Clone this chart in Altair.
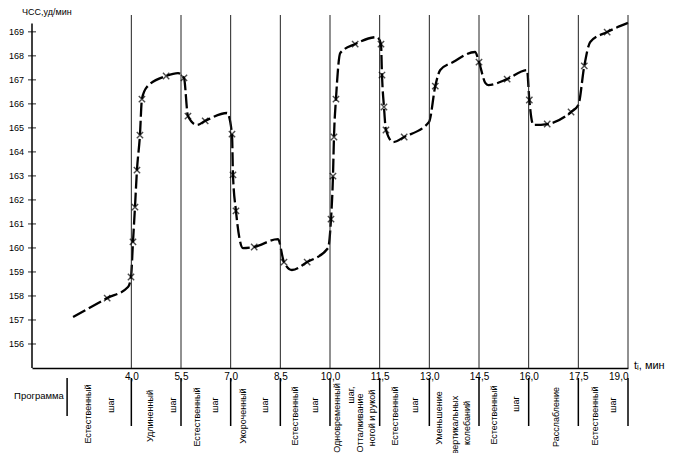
import altair as alt
import pandas as pd

FONT = "Liberation Sans"

# ---- heart-rate curve (t in min, HR in beats/min); flag 1 = measured point (x marker)
curve_t = [2.24, 3.27, 3.90, 3.99, 4.05, 4.11, 4.17, 4.26, 4.32, 4.47, 5.05, 5.41, 5.59, 5.71,
           5.98, 6.23, 6.89, 7.04, 7.07, 7.16, 7.37, 7.71, 8.43, 8.61, 8.85, 9.31, 9.94,
           10.03, 10.09, 10.12, 10.18, 10.31, 10.76, 11.42, 11.54, 11.57, 11.63, 11.69,
           11.91, 12.24, 12.99, 13.18, 13.33, 13.72, 14.38, 14.50, 14.69, 14.78, 15.35,
           15.95, 16.02, 16.14, 16.56, 17.28, 17.50, 17.68, 17.86, 18.37, 19.00]
curve_v = [157.12, 157.91, 158.37, 158.79, 160.25, 161.70, 163.24, 164.70, 166.20, 166.70,
           167.16, 167.28, 167.08, 165.49, 165.12, 165.29, 165.62, 164.74, 163.04, 161.54,
           159.99, 160.04, 160.37, 159.41, 159.08, 159.41, 159.99, 161.20, 162.99, 164.62,
           166.20, 168.12, 168.49, 168.78, 168.49, 167.20, 165.87, 164.91, 164.41, 164.62,
           165.24, 166.74, 167.41, 167.74, 168.16, 167.74, 166.87, 166.78, 167.03, 167.41,
           166.16, 165.12, 165.16, 165.66, 165.95, 167.58, 168.58, 168.99, 169.37]
curve_mark = [0, 1, 0, 1, 1, 1, 1, 1, 1, 0, 1, 0, 1, 1, 0, 1, 0, 1, 1, 1, 0, 1, 0, 1, 0, 1, 0,
              1, 1, 1, 1, 0, 1, 0, 1, 1, 1, 1, 0, 1, 0, 1, 0, 0, 0, 1, 0, 0, 1, 0, 1, 0, 1,
              1, 0, 1, 0, 1, 0]

# ---- axes
x_ticks = [4.0, 5.5, 7.0, 8.5, 10.0, 11.5, 13.0, 14.5, 16.0, 17.5, 19.0]
y_ticks = list(range(156, 170))
y_labels = [str(v) for v in y_ticks]

# ---- program strip below the axis
sep_t = [2.06] + x_ticks
sep_top = [363] * len(sep_t)
sep_bot = [401] + [411] * len(x_ticks)

prog_text = ["Естественный", "шаг", "Удлиненный", "шаг", "Естественный", "шаг",
             "Укороченный", "шаг", "Естественный", "шаг", "Одновременный", "шаг,",
             "Отталкивание", "ногой и рукой", "Естественный", "шаг", "Уменьшение",
             "вертикальных", "колебаний", "Естественный", "шаг", "Расслабление",
             "Естественный", "шаг"]
prog_t = [2.69, 3.39, 4.56, 5.26, 5.98, 6.53, 7.37, 8.04, 8.95, 9.55, 10.21, 10.64,
          10.91, 11.27, 11.97, 12.57, 13.30, 13.78, 14.14, 14.96, 15.62, 16.83, 18.01, 18.55]
prog_y = [399, 390, 401, 390, 402, 390, 401, 390, 401, 390, 403, 380, 408, 403, 401, 390,
          403, 410, 408, 400, 389, 402, 401, 390]

df_curve = pd.DataFrame({"t": curve_t, "v": curve_v, "m": curve_mark})
df_marks = df_curve[df_curve["m"] == 1]
df_vlines = pd.DataFrame({"t": x_ticks})
df_yt = pd.DataFrame({"v": y_ticks, "lab": y_labels})
df_sep = pd.DataFrame({"t": sep_t, "y1": sep_top, "y2": sep_bot})
df_prog = pd.DataFrame({"t": prog_t, "ly": prog_y, "txt": prog_text})
df_ax = pd.DataFrame({"v0": [155], "v1": [169.35]})

xs = alt.Scale(domain=[1, 19], nice=False, zero=False)
ys = alt.Scale(domain=[155, 169.7], nice=False, zero=False)

line = alt.Chart(df_curve).mark_line(
    interpolate="monotone", color="black", strokeWidth=2.3, strokeDash=[14, 4]
).encode(
    x=alt.X("t:Q", scale=xs, axis=alt.Axis(
        values=x_ticks, ticks=False, grid=False, domainColor="black", domainWidth=1.5,
        labelExpr="replace(format(datum.value, '.1f'), '.', ',')", labelOverlap=False,
        labelFont=FONT, labelFontSize=10, labelColor="black", labelPadding=3, title=None)),
    y=alt.Y("v:Q", scale=ys, axis=None),
)

vlines = alt.Chart(df_vlines).mark_rule(color="#222", strokeWidth=1).encode(
    x=alt.X("t:Q", scale=xs), y=alt.value(0), y2=alt.value(353))

yaxis_line = alt.Chart(df_ax).mark_rule(color="black", strokeWidth=1.5).encode(
    x=alt.value(0), y=alt.Y("v0:Q", scale=ys, axis=None), y2="v1:Q")

yticks = alt.Chart(df_yt).mark_tick(color="black", thickness=1.2, size=8, orient="horizontal").encode(
    x=alt.value(0), y=alt.Y("v:Q", scale=ys, axis=None))

ylabels = alt.Chart(df_yt).mark_text(
    align="right", baseline="middle", font=FONT, fontSize=9, color="black"
).encode(x=alt.value(-8), y=alt.Y("v:Q", scale=ys, axis=None), text="lab:N")

points = alt.Chart(df_marks).mark_point(
    shape="M-1,-1L1,1M-1,1L1,-1", size=40, strokeWidth=1.4, color="black", filled=False
).encode(x=alt.X("t:Q", scale=xs), y=alt.Y("v:Q", scale=ys, axis=None))

seps = alt.Chart(df_sep).mark_rule(color="black", strokeWidth=1.5).encode(
    x=alt.X("t:Q", scale=xs), y=alt.Y("y1:Q", scale=None, axis=None), y2="y2:Q")

prog = alt.Chart(df_prog).mark_text(
    angle=270, align="center", baseline="middle", font=FONT, fontSize=9, color="black"
).encode(x=alt.X("t:Q", scale=xs), y=alt.Y("ly:Q", scale=None, axis=None), text="txt:N")

lbl_df = pd.DataFrame({"a": [0]})
ytitle = alt.Chart(lbl_df).mark_text(
    text="ЧСС,уд/мин", align="left", baseline="middle", font=FONT, fontSize=9, color="black"
).encode(x=alt.value(-10), y=alt.value(-3))
xtitle = alt.Chart(lbl_df).mark_text(
    text="tᵢ, мин", align="left", baseline="middle", font=FONT, fontSize=11, color="black"
).encode(x=alt.value(602), y=alt.value(351))
progtitle = alt.Chart(lbl_df).mark_text(
    text="Программа", align="center", baseline="middle", font=FONT, fontSize=9.5, color="black"
).encode(x=alt.value(7), y=alt.value(381))

chart = alt.layer(line, vlines, yaxis_line, yticks, ylabels, points, seps, prog,
                  ytitle, xtitle, progtitle).properties(
    width=596, height=353,
    autosize=alt.AutoSizeParams(type="none"),
    padding={"left": 24, "top": 7, "right": 42, "bottom": 85},
    background="white",
).configure_view(stroke=None)

chart.save("out.html", embed_options={"renderer": "svg", "actions": False})
